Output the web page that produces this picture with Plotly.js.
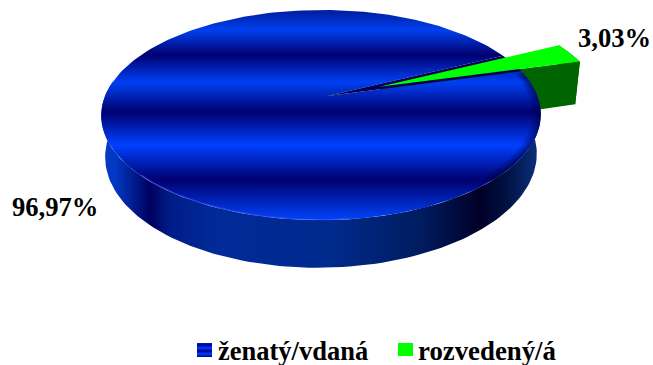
<!DOCTYPE html>
<html>
<head>
<meta charset="utf-8">
<script src="https://cdn.plot.ly/plotly-3.0.1.min.js"></script>
<style>html,body{margin:0;padding:0;background:#fff}#chart{width:653px;height:365px}</style>
</head>
<body>
<div id="chart"></div>
<script>
// Marital status shares, in percent
const categories = ['ženatý/vdaná', 'rozvedený/á'];
const shares = [96.97, 3.03];

const W = 653, H = 365;

// Tilted disc: unit circle (u, v) projected through a homography onto the page
const disc = {x0: 327, y0: 96, bx: 216, by: 101.6, kv: 0.181, ku: 0.027, depth: 39, foot: 0.982, footX: 321};
function project(u, v) {
  const w = 1 + disc.kv * v + disc.ku * u;
  return [disc.x0 + disc.bx * u / w, disc.y0 - disc.by * v / w, w];
}
function rimPoint(deg, r, off) {
  const a = deg * Math.PI / 180;
  return project(r * Math.cos(a) + off[0], r * Math.sin(a) + off[1]);
}
// The lower edge of the disc sits a little narrower than the upper one
function drop(p, depth) {
  return [disc.footX + (p[0] - disc.footX) * disc.foot, p[1] + depth / p[2], p[2]];
}
function arc(from, to, r, off, depth) {
  const n = Math.max(2, Math.ceil(Math.abs(to - from) / 1.5));
  const pts = [];
  for (let i = 0; i <= n; i++) {
    const p = rimPoint(from + (to - from) * i / n, r, off);
    pts.push(depth ? drop(p, depth) : p);
  }
  return pts;
}

function poly(pts, style) {
  return Object.assign({
    x: pts.map(p => p[0]), y: pts.map(p => p[1]),
    type: 'scatter', mode: 'lines', fill: 'toself',
    line: {width: 0}, hoverinfo: 'skip', showlegend: false
  }, style);
}
function stroke(pts, width, color) {
  return {x: pts.map(p => p[0]), y: pts.map(p => p[1]), type: 'scatter', mode: 'lines',
    line: {width: width, color: color}, hoverinfo: 'skip', showlegend: false};
}
function scale(stops, a, b) {
  return stops.map(s => [(s[0] - a) / (b - a), s[1]]);
}

// Slice angles follow from the shares; the small slice sits at the upper right
const smallEnd = 26;
const smallSweep = shares[1] / 100 * 360;
const smallStart = smallEnd - smallSweep;
const mid = (smallStart + smallEnd) / 2 * Math.PI / 180;
const pull = 0.265;
const smallRadius = 1.08;
const smallDepth = 47;
const off = [pull * Math.cos(mid), pull * Math.sin(mid)];
const none = [0, 0];

// Shading
const topBands = [[10,'#001c9c'],[30,'#0040f0'],[55,'#000070'],[82,'#0040f4'],[112,'#000070'],[145,'#0040ff'],[180,'#000070'],[218,'#0040f4'],[220,'#0040f4']];
const sideBands = [[101,'#0a3ac8'],[116,'#0038c0'],[150,'#000060'],[170,'#001c88'],[215,'#002a98'],[330,'#002a8c'],[420,'#001c60'],[480,'#000028'],[505,'#001040'],[535,'#0a2c78'],[541,'#0a2c78']];
const swatchBands = [[342,'#0030d0'],[345,'#000090'],[348,'#0040ff'],[351,'#000090'],[354,'#0040ff'],[357,'#000090']];

const traces = [];

// Pulled-out slice: cut face and outer wall
const gApex = project(off[0], off[1]);
const gLow = rimPoint(smallStart, smallRadius, off);
traces.push(poly([gApex, gLow, drop(gLow, smallDepth), drop(gApex, smallDepth)], {fillcolor: '#006400'}));
traces.push(poly(arc(smallStart, smallEnd, smallRadius, off, 0).concat(arc(smallEnd, smallStart, smallRadius, off, smallDepth)), {fillcolor: '#006400'}));

// Large slice: outer wall
const wall = arc(172, 372, 1, none, 0).concat(arc(372, 172, 1, none, disc.depth));
traces.push(poly(wall, {
  fillcolor: '#001c80',
  fillgradient: {type: 'horizontal', start: 101, stop: 541, colorscale: scale(sideBands, 101, 541)}
}));

// Large slice: top face
const bigTop = [project(0, 0)].concat(arc(smallEnd, smallStart + 360, 1, none, 0));
traces.push(poly(bigTop, {
  name: categories[0],
  fillcolor: '#0030c0',
  fillgradient: {type: 'vertical', start: 10, stop: 220, colorscale: scale(topBands, 10, 220)}
}));

// Darkening toward the right edge, highlight along the front-left edge
[[0.995, 0.5], [0.985, 0.35], [0.975, 0.22], [0.965, 0.12]].forEach(s => {
  traces.push(stroke(arc(-48, smallStart - 1, s[0], none, 0), 2.5, 'rgba(0,0,60,' + s[1] + ')'));
});
traces.push(stroke(arc(222, 275, 0.997, none, 0), 1.2, 'rgba(80,90,255,0.55)'));

// Inner wall exposed by the pulled-out slice
traces.push(poly([project(0, 0)].concat(arc(smallStart, smallEnd, 1, none, 0)), {fillcolor: '#000058'}));

// Pulled-out slice: top face
traces.push(poly([gApex].concat(arc(smallStart, smallEnd, smallRadius, off, 0)), {name: categories[1], fillcolor: '#00ff00'}));

// Legend swatches
traces.push(poly([[197,343],[212,343],[212,357],[197,357]], {
  fillcolor: '#0030d0',
  fillgradient: {type: 'vertical', start: 342, stop: 357, colorscale: scale(swatchBands, 342, 357)}
}));
traces.push(poly([[398,343],[413,343],[413,356],[398,356]], {fillcolor: '#00ff00'}));

const pct = v => v.toFixed(2).replace('.', ',') + '%';
function note(text, x, y, size) {
  return {text: '<b>' + text + '</b>', x: x, y: y, xref: 'x', yref: 'y', xanchor: 'left', yanchor: 'middle',
    showarrow: false, font: {family: '"Liberation Serif", serif', size: size, color: '#000'}};
}
const annotations = [
  note(pct(shares[0]), 10, 207, 26.6),
  note(pct(shares[1]), 576, 38, 26.6),
  note(categories[0], 216, 351, 26.5),
  note(categories[1], 416, 351, 26.8)
];

Plotly.newPlot('chart', traces, {
  width: W, height: H,
  margin: {l: 0, r: 0, t: 0, b: 0},
  paper_bgcolor: '#fff', plot_bgcolor: '#fff',
  showlegend: false,
  xaxis: {range: [0, W], visible: false, fixedrange: true},
  yaxis: {range: [H, 0], visible: false, fixedrange: true},
  annotations: annotations
}, {displayModeBar: false, staticPlot: true});
</script>
</body>
</html>
